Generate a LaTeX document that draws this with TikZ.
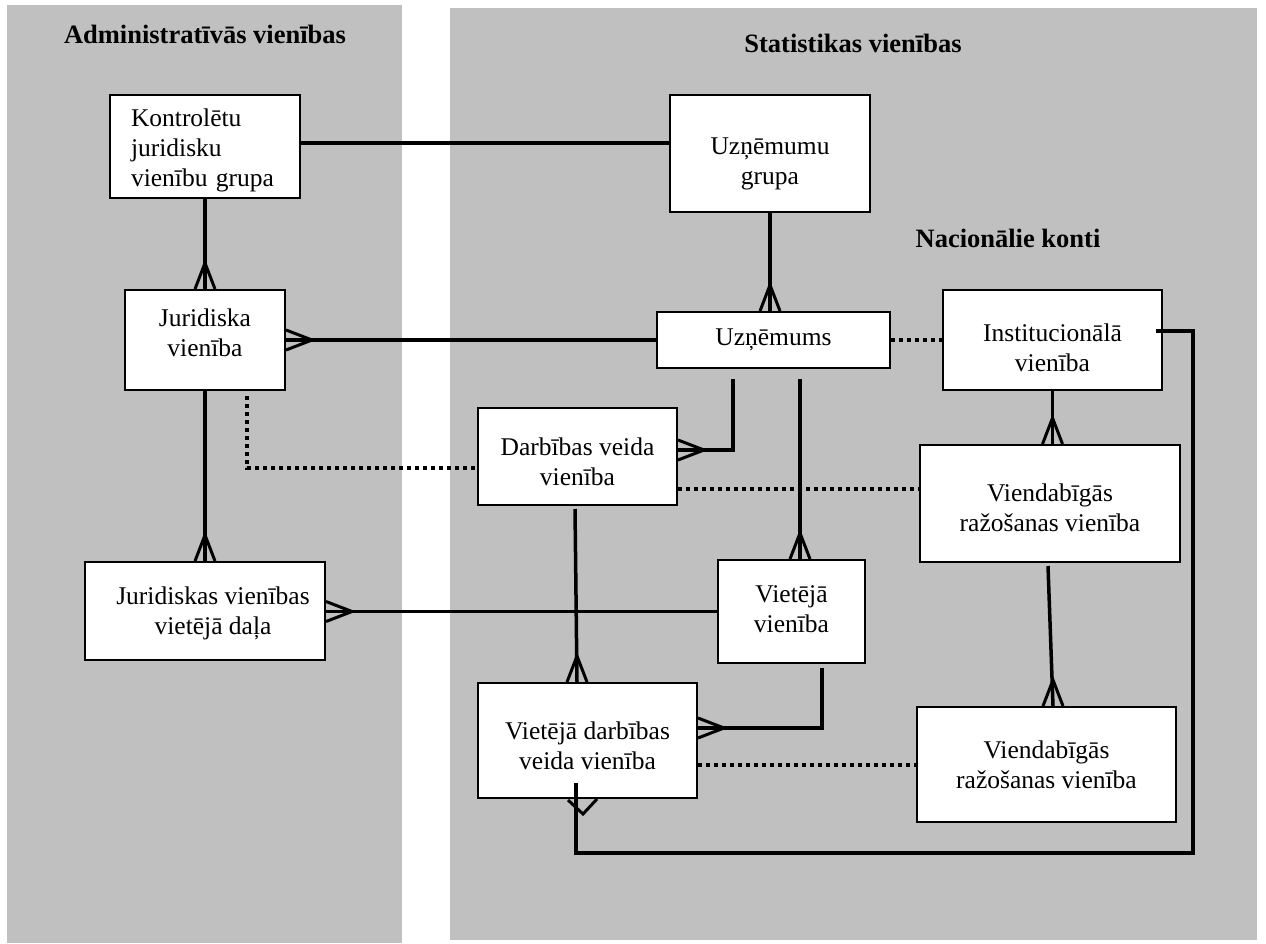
\documentclass[tikz,border=0pt]{standalone}
\usepackage{fontspec}
\setmainfont{Liberation Serif}
\usetikzlibrary{calc}
\definecolor{panel}{HTML}{C0C0C0}
\begin{document}
\begin{tikzpicture}[x=1pt,y=-1pt,
 box/.style={draw, line width=2pt, fill=white, inner sep=0pt},
 txt/.style={inner sep=0pt, align=center, font=\fontsize{25.5}{30}\selectfont},
 conn/.style={line width=3.5pt},
 dotline/.style={line width=4pt, dash pattern=on 4pt off 4pt},
 head/.style={font=\bfseries\fontsize{26.5}{32}\selectfont, anchor=base},
 crow/.pic={\draw[line width=3pt, miter limit=10] (0,-10) -- (26,0) -- (0,10);}]
\useasboundingbox (0,0) rectangle (1266,943);
\fill[panel] (7,5) rectangle (402,943);
\fill[panel] (450,8) rectangle (1257,940);

\node[head] (h1) at (205,43) {Administratīvās vienības};
\node[head] (h2) at (853,52) {Statistikas vienības};
\node[head] (h3) at (1008,247) {Nacionālie konti};

\node[box, minimum width=190, minimum height=103] (kg) at (205,146.5) {};
\node[box, minimum width=200, minimum height=117] (ug) at (770,153.5) {};
\node[box, minimum width=160, minimum height=100] (jv) at (205,340) {};
\node[box, minimum width=233, minimum height=56] (uz) at (773.5,340) {};
\node[box, minimum width=219, minimum height=100] (iv) at (1052.5,340) {};
\node[box, minimum width=199, minimum height=97] (dv) at (577.5,456.5) {};
\node[box, minimum width=260, minimum height=117] (vr1) at (1050,503.5) {};
\node[box, minimum width=240, minimum height=98] (jd) at (205,611) {};
\node[box, minimum width=147, minimum height=103] (vv) at (791.5,611.5) {};
\node[box, minimum width=219, minimum height=115] (vdv) at (587.5,740.5) {};
\node[box, minimum width=259, minimum height=115] (vr2) at (1046.5,764.5) {};

\node[txt, align=left, text width=148, yshift=-4pt] (kgt) at (kg) {Kontrolētu\\juridisku\\vienību grupa};
\node[txt, yshift=-10pt] (ugt) at (ug) {Uzņēmumu\\grupa};
\node[txt, yshift=7pt] (jvt) at (jv) {Juridiska\\vienība};
\node[txt] (uzt) at (uz) {Uzņēmums};
\node[txt, yshift=-8pt] (ivt) at (iv) {Institucionālā\\vienība};
\node[txt, yshift=-5pt] (dvt) at (dv) {Darbības veida\\vienība};
\node[txt, yshift=-4pt] (vr1t) at (vr1) {Viendabīgās\\ražošanas vienība};
\node[txt, yshift=-2pt, xshift=8pt] (jdt) at (jd) {Juridiskas vienības\\vietējā daļa};
\node[txt, yshift=2pt] (vvt) at (vv) {Vietējā\\vienība};
\node[txt, yshift=-5pt] (vdvt) at (vdv) {Vietējā darbības\\veida vienība};
\node[txt] (vr2t) at (vr2) {Viendabīgās\\ražošanas vienība};

% helper coordinates
\coordinate (kgE) at ($(kg.east)+(0,-3.5)$);
\coordinate (ugW) at (kgE -| ug.west);
\coordinate (uzS1) at ($(uz.south)+(-40.5,10)$);
\coordinate (dvE1) at ($(dv.east)+(0,-6.5)$);
\coordinate (uzS2) at ($(uz.south)+(26.5,10)$);
\coordinate (vvN) at (uzS2 |- vv.north);
\coordinate (dvS) at ($(dv.south)+(-2.5,3)$);
\coordinate (vdvN) at ($(vdv.north)+(-10.5,0)$);
\coordinate (vvS) at ($(vv.south)+(30.5,4)$);
\coordinate (vdvE1) at ($(vdv.east)+(0,-12.5)$);
\coordinate (vr1S) at ($(vr1.south)+(-2,3)$);
\coordinate (vr2N) at ($(vr2.north)+(6.5,0)$);
\coordinate (ivE) at ($(iv.east)+(-7,-9)$);
\coordinate (c1) at ($(ivE)+(37,0)$);
\coordinate (c2) at ($(c1)+(0,522)$);
\coordinate (vdvS) at ($(vdv.south)+(-11.5,-16)$);
\coordinate (jvS) at ($(jv.south)+(42,5)$);
\coordinate (dvW) at ($(dv.west)+(0,11.5)$);
\coordinate (dvE2) at ($(dv.east)+(0,32)$);
\coordinate (vr1W) at (dvE2 -| vr1.west);
\coordinate (vdvE2) at ($(vdv.east)+(0,24.5)$);
\coordinate (vr2W) at (vdvE2 -| vr2.west);

% solid connectors
\draw[conn] (kgE) -- (ugW);
\draw[conn] (kg.south) -- (jv.north);
\pic[rotate=90] at (jv.north) {crow};
\draw[conn] (ug.south) -- (ug.south |- uz.north);
\pic[rotate=90] at (ug.south |- uz.north) {crow};
\draw[conn] (uz.west) -- (jv.east);
\pic at (jv.east) {crow};
\draw[conn] (jv.south) -- (jd.north);
\pic[rotate=90] at (jd.north) {crow};
\draw[conn] (uzS1) |- (dvE1);
\pic at (dvE1) {crow};
\draw[conn] (uzS2) -- (vvN);
\pic[rotate=90] at (vvN) {crow};
\draw[conn] (iv.south) -- (iv.south |- vr1.north);
\pic[rotate=90] at (iv.south |- vr1.north) {crow};
\draw[conn] (dvS) -- (vdvN);
\pic[rotate=90] at (vdvN) {crow};
\draw[conn] (vv.west) -- (vv.west -| jd.east);
\pic at (vv.west -| jd.east) {crow};
\draw[conn] (vvS) |- (vdvE1);
\pic at (vdvE1) {crow};
\draw[conn] (vr1S) -- (vr2N);
\pic[rotate=90] at (vr2N) {crow};
\draw[conn] (ivE) -- (c1) -- (c2) -| (vdvS);
\coordinate (v1) at ($(vdv.south)+(-19.5,1)$);
\coordinate (v2) at ($(vdv.south)+(-4.5,15)$);
\coordinate (v3) at ($(vdv.south)+(9.5,0)$);
\draw[line width=3pt] (v1) -- (v2) -- (v3);

% dotted connectors
\draw[dotline] (uz.east) -- (iv.west);
\draw[dotline] (jvS) |- (dvW);
\draw[dotline] (dvE2) -- (vr1W);
\draw[dotline] (vdvE2) -- (vr2W);
\end{tikzpicture}
\end{document}
